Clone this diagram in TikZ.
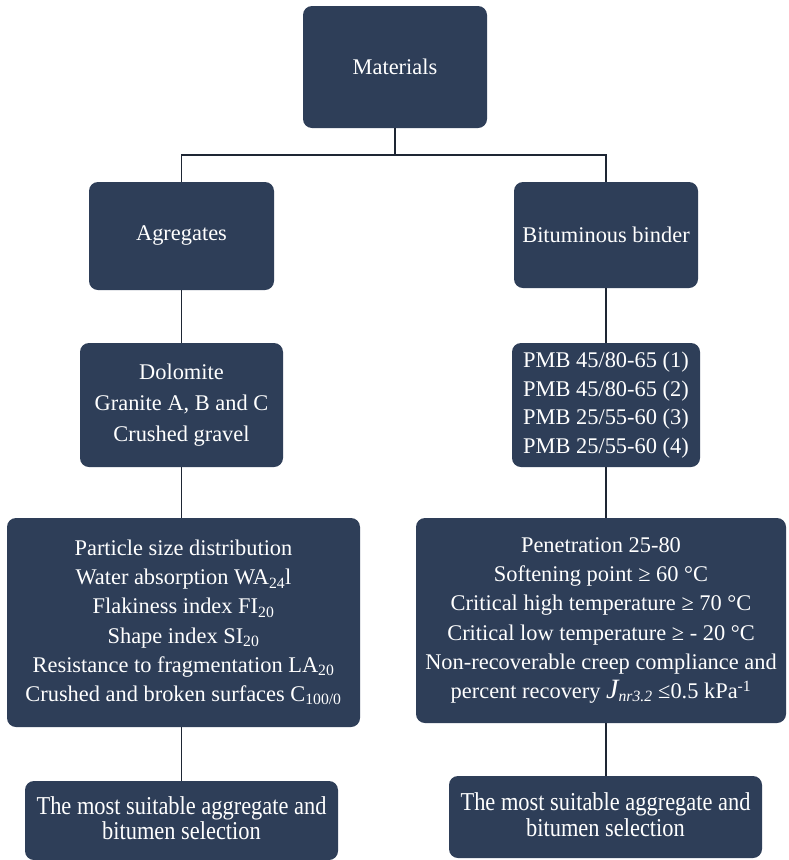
\documentclass[tikz,border=0pt]{standalone}
\usepackage{fontspec}
\setmainfont{Liberation Serif}
\usepackage{graphicx}
\definecolor{boxfill}{RGB}{46,62,88}
\definecolor{linecol}{RGB}{30,38,52}
\tikzset{
  box/.style={fill=boxfill, rounded corners=9pt, text=white, inner sep=0pt, align=center,
    font=\fontsize{22.4}{29.2}\selectfont},
  link/.style={draw=linecol, line width=1.8pt}
}
\begin{document}
\begin{tikzpicture}[x=1pt,y=-1pt]
\useasboundingbox[fill=white] (0,0) rectangle (788,860);
\node[box, minimum width=184pt, minimum height=122pt] (mat) at (395,67) {Materials};
\node[box, minimum width=185pt, minimum height=108pt] (agg) at (181.5,236) {Agregates};
\node[box, minimum width=184pt, minimum height=106pt] (bit) at (606,235) {Bituminous binder};
\node[box, minimum width=203pt, minimum height=124pt, font=\fontsize{22.4}{31}\selectfont] (dol) at (181.5,405)
  {Dolomite\\Granite A, B and C\\Crushed gravel};
\node[box, minimum width=188pt, minimum height=124pt, font=\fontsize{22.4}{28.5}\selectfont] (pmb) at (606,405)
  {PMB 45/80-65 (1)\\PMB 45/80-65 (2)\\PMB 25/55-60 (3)\\PMB 25/55-60 (4)};
\node[box, minimum width=353pt, minimum height=209pt] (bigL) at (183.5,622.5)
  {Particle size distribution\\
   Water absorption WA\textsubscript{24}l\\
   Flakiness index FI\textsubscript{20}\\
   Shape index SI\textsubscript{20}\\
   Resistance to fragmentation LA\textsubscript{20}\\
   Crushed and broken surfaces C\textsubscript{100/0}};
\node[box, minimum width=370pt, minimum height=205pt] (bigR) at (601,620.5)
  {Penetration 25-80\\
   Softening point ≥ 60 °C\\
   Critical high temperature ≥ 70 °C\\
   Critical low temperature ≥ - 20 °C\\
   Non-recoverable creep compliance and\\
   percent recovery {\fontsize{28}{28}\selectfont\itshape J}\textsubscript{\itshape nr3.2} ≤0.5 kPa\textsuperscript{-1}};
\node[box, minimum width=313pt, minimum height=79pt] (botL) at (181.5,820.5)
  {\scalebox{1}[1.15]{\begin{tabular}{@{}c@{}}The most suitable aggregate and\\[-7pt]bitumen selection\end{tabular}}};
\node[box, minimum width=313pt, minimum height=82pt] (botR) at (605.5,817)
  {\scalebox{1}[1.15]{\begin{tabular}{@{}c@{}}The most suitable aggregate and\\[-7pt]bitumen selection\end{tabular}}};
\coordinate (j) at (395,155);
\draw[link] (mat.south) -- (j);
\draw[link] (agg.north) |- (j) -| (bit.north);
\draw[link] (agg.south) -- (dol.north);
\draw[link] (bit.south) -- (pmb.north);
\draw[link] (dol.south) -- (dol.south |- bigL.north);
\draw[link] (pmb.south) -- (pmb.south |- bigR.north);
\draw[link] (dol.south |- bigL.south) -- (dol.south |- botL.north);
\draw[link] (pmb.south |- bigR.south) -- (pmb.south |- botR.north);
\end{tikzpicture}
\end{document}
